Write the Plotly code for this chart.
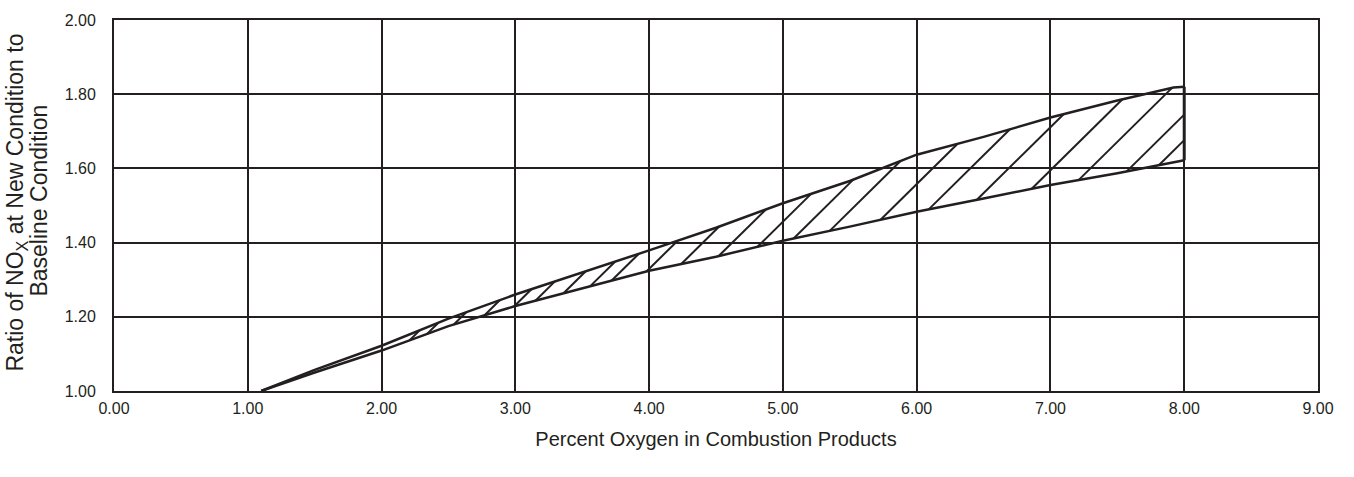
import numpy as np
import plotly.graph_objects as go

# ---- data ----
upper_x = [1.1, 1.5, 2.0, 2.5, 3.0, 3.5, 4.0, 4.5, 5.0, 5.5, 6.0, 6.5, 7.0, 7.5, 7.92, 8.0]
upper_y = [1.0, 1.057, 1.122, 1.195, 1.26, 1.319, 1.379, 1.44, 1.506, 1.566, 1.637, 1.685, 1.737, 1.783, 1.818, 1.82]

lower_x = [1.1, 1.5, 2.0, 2.5, 3.0, 3.5, 4.0, 4.5, 5.0, 5.5, 6.0, 6.5, 7.0, 7.5, 8.0]
lower_y = [1.0, 1.050, 1.109, 1.175, 1.229, 1.277, 1.324, 1.362, 1.405, 1.443, 1.483, 1.519, 1.555, 1.587, 1.622]

# x positions (on the lower curve) where hatch lines start
hatch_x = [2.21, 2.34, 2.54, 2.77, 2.99, 3.15, 3.36, 3.56, 3.72, 3.98, 4.24, 4.52,
           4.81, 5.08, 5.35, 5.73, 6.09, 6.45, 6.86, 7.21, 7.57, 7.81]

x_ticks = [0, 1, 2, 3, 4, 5, 6, 7, 8, 9]
y_ticks = [1.0, 1.2, 1.4, 1.6, 1.8, 2.0]

x_title = "Percent Oxygen in Combustion Products"
y_title_lines = ["Ratio of NO<sub>X</sub> at New Condition to", "Baseline Condition"]

# ---- layout geometry ----
W, H = 1354, 477
ML, MR, MT, MB = 114, 36, 15, 86
plot_w = W - ML - MR
plot_h = H - MT - MB
x_range = [0, 9]
y_range = [1.0, 2.0]
# slope of a 45-degree (pixel space) line in data units
k = (plot_w / (x_range[1] - x_range[0])) / (plot_h / (y_range[1] - y_range[0]))

INK = "#231f20"

# hatch segments
hx, hy = [], []
ux = np.array(upper_x)
uy = np.array(upper_y)
x_end_wall = upper_x[-1]
for x0 in hatch_x:
    y0 = float(np.interp(x0, lower_x, lower_y))
    xs = np.linspace(x0, x_end_wall, 4000)
    diff = np.interp(xs, ux, uy) - (y0 + k * (xs - x0))
    idx = np.where(diff <= 0)[0]
    x1 = xs[idx[0]] if len(idx) else x_end_wall
    y1 = y0 + k * (x1 - x0)
    hx += [x0, x1, None]
    hy += [y0, y1, None]

fig = go.Figure()
fig.add_trace(go.Scatter(x=hx, y=hy, mode="lines",
                         line=dict(color=INK, width=2), hoverinfo="skip"))
fig.add_trace(go.Scatter(x=lower_x, y=lower_y, mode="lines",
                         line=dict(color=INK, width=2.5)))
fig.add_trace(go.Scatter(x=upper_x, y=upper_y, mode="lines",
                         line=dict(color=INK, width=2.5)))
fig.add_trace(go.Scatter(x=[lower_x[-1], upper_x[-1]], y=[lower_y[-1], upper_y[-1]],
                         mode="lines", line=dict(color=INK, width=3)))

font_family = "Liberation Sans, Arial, sans-serif"

# y-axis title as two rotated lines with tight leading
title_centers_px = [(17, 200), (39, 198)]
for txt, (cx, cy) in zip(y_title_lines, title_centers_px):
    fig.add_annotation(
        text=txt, textangle=-90, showarrow=False,
        xref="paper", yref="paper",
        x=(cx - ML) / plot_w, y=(MT + plot_h - cy) / plot_h,
        xanchor="center", yanchor="middle",
        font=dict(size=23, color=INK, family=font_family),
    )

fig.update_layout(
    width=W, height=H,
    margin=dict(l=ML, r=MR, t=MT, b=MB),
    paper_bgcolor="white", plot_bgcolor="white",
    showlegend=False,
    font=dict(family=font_family, color=INK, size=16),
    xaxis=dict(
        range=x_range, tickvals=x_ticks, tickformat=".2f",
        showgrid=True, gridcolor=INK, gridwidth=2,
        showline=True, linecolor=INK, linewidth=2, mirror=True,
        zeroline=False, ticks="", ticklabelstandoff=2,
        tickfont=dict(size=16, color=INK),
        title=dict(text=x_title, font=dict(size=20, color=INK), standoff=16),
    ),
    yaxis=dict(
        range=y_range, tickvals=y_ticks, tickformat=".2f",
        showgrid=True, gridcolor=INK, gridwidth=2,
        showline=True, linecolor=INK, linewidth=2, mirror=True,
        zeroline=False, ticks="", ticklabelstandoff=13,
        tickfont=dict(size=16, color=INK),
    ),
)

fig.write_html("out.html")
